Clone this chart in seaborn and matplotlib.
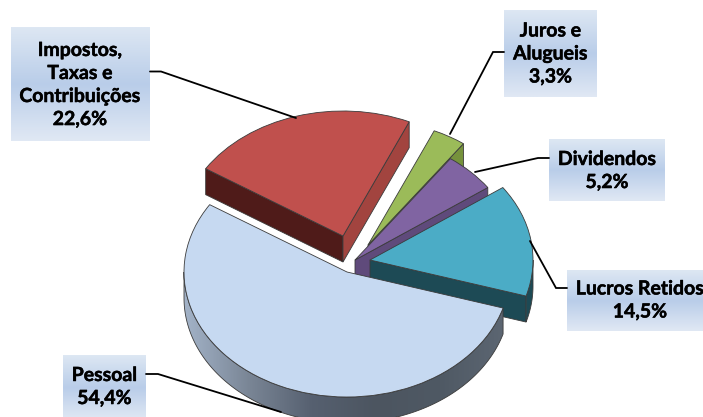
import numpy as np
import matplotlib
matplotlib.use("Agg")
import matplotlib.pyplot as plt
import matplotlib.patheffects as pe
from matplotlib.patches import Polygon
import seaborn as sns

slice_names = ["Pessoal", "Lucros Retidos", "Dividendos", "Juros e\nAlugueis", "Impostos,\nTaxas e\nContribuições"]
slice_shares = [54.4, 14.5, 5.2, 3.3, 22.6]
top_colors = ["#c6d9f1", "#4bacc6", "#8064a2", "#9bbb59", "#c0504d"]
side_colors = ["#4f5964", "#1d4a55", "#5f4a7b", "#76923c", "#a2443f"]
back_side_color = "#4f1b19"

W, H = 703, 417
RX, RY = 163.0, 125.0
DEPTH = 26.0 / RY
START_ANGLE = 147.4

# Slice apex positions, in pixels from the top-left corner
apexes_px = [(347, 272), (370, 260), (355, 260), (368, 245), (343, 236)]
# Label boxes (left, right, top, bottom) and their leader lines, in pixels
boxes_px = [(63, 146, 355, 420), (567, 715, 270, 331), (549, 665, 140, 201),
            (504, 597, 10, 97), (11, 150, 27, 141)]
leaders_px = [[(146, 374), (158, 374), (281, 412)],
              [(567, 288), (556, 288), (530, 241)],
              [(549, 158), (538, 158), (475, 172)],
              [(504, 52), (493, 52), (450, 134)],
              [(150, 71.5), (161, 71.5), (296, 118)]]
text_centres_px = [(104.5, 387), (640, 300.5), (607, 171), (550.5, 54), (80, 85)]

sns.set_theme(style="white")
plt.rcParams["font.family"] = ["Lato", "DejaVu Sans"]

fig = plt.figure(figsize=(W / 100, H / 100), dpi=100, facecolor="white")

# The pie axes are scaled so that one unit is one radius, which turns circles into ellipses
ax = fig.add_axes([0, 0, 1, 1])
edge = "#3b3b3b"


def to_unit(p):
    return p[0] / RX, (H - p[1]) / RY


def rim_point(c, deg):
    a = np.radians(deg)
    return c[0] + np.cos(a), c[1] + np.sin(a)


def radial_face(c, deg, color, z):
    px, py = rim_point(c, deg)
    ax.fill([c[0], px, px, c[0]], [c[1], py, py - DEPTH, c[1] - DEPTH],
            facecolor=color, edgecolor=edge, linewidth=0.6, zorder=z)


def rim_outline(c, a0, a1):
    t = np.radians(np.linspace(a0, a1, 160))
    xs, ys = c[0] + np.cos(t), c[1] + np.sin(t)
    return np.r_[xs, xs[::-1]], np.r_[ys, ys[::-1] - DEPTH]


def rim_face(c, a0, a1, color, z):
    xs, ys = rim_outline(c, a0, a1)
    ax.fill(xs, ys, facecolor=color, edgecolor=edge, linewidth=0.6, zorder=z)


def shaded_rim_face(c, a0, a1, stops, z):
    # Outer wall whose shade runs from left to right across the slice
    xs, ys = rim_outline(c, a0, a1)
    outline = Polygon(np.c_[xs, ys], closed=True, facecolor="none", edgecolor=edge,
                      linewidth=0.6, zorder=z + 0.1)
    ax.add_patch(outline)
    ramp = np.array(sns.blend_palette(stops, 256))[None, :, :]
    im = ax.imshow(ramp, extent=(xs.min(), xs.max(), ys.min(), ys.max()), aspect="auto",
                   interpolation="bilinear", zorder=z)
    im.set_clip_path(outline)


edges = START_ANGLE + np.r_[0, np.cumsum(slice_shares)] * 3.6
centres = [to_unit(p) for p in apexes_px]
bounds = dict(zip(slice_names, zip(edges[:-1], edges[1:], centres, top_colors, side_colors)))

# Back-to-front drawing order: Impostos, Juros, Dividendos, Lucros, Pessoal
for k, idx in enumerate([4, 3, 2, 1, 0]):
    a0, a1, c, top, side = bounds[slice_names[idx]]
    z = 2 + 2 * k
    if idx == 4:
        radial_face(c, a1, back_side_color, z)
        radial_face(c, a0, side, z)
    elif idx in (1, 2, 3):
        radial_face(c, a0, side, z)
        if idx == 1:
            rim_face(c, a0, 360, side, z)
    else:
        shaded_rim_face(c, 180, a1, ["#a3b3c8", "#7a8696", "#566070", "#4c5560", "#4f5964", "#5c6672"], z)
    ax.pie([slice_shares[idx] / 100], normalize=False, startangle=a0, center=c, radius=1,
           colors=[top], wedgeprops=dict(edgecolor=edge, linewidth=0.6, zorder=z + 1))

ax.set_aspect("auto")
ax.set_xlim(0, W / RX)
ax.set_ylim(0, H / RY)
ax.axis("off")

# Overlay in pixel coordinates for the label boxes and their leaders
ov = fig.add_axes([0, 0, 1, 1], facecolor="none")
ov.set_xlim(0, W)
ov.set_ylim(H, 0)
ov.axis("off")

gradient = np.array(sns.blend_palette(["#dde7f3", "#b9cde9", "#e0e8f4"], 64))[:, None, :]
for name, share, box, leader, tc in zip(slice_names, slice_shares, boxes_px, leaders_px, text_centres_px):
    x0, x1, y0, y1 = box
    ov.imshow(gradient, extent=(x0, x1, y1, y0), aspect="auto", zorder=1, interpolation="bilinear")
    xs, ys = zip(*leader)
    ov.plot(xs, ys, color="black", linewidth=1.3, solid_joinstyle="miter", zorder=2)
    share_text = f"{share:.1f}".replace(".", ",") + "%"
    label = ov.text(tc[0], tc[1], f"{name}\n{share_text}", ha="center", va="center", fontsize=14,
                    fontweight="bold", color="black", linespacing=1.43, zorder=3)
    # A hairline stroke gives the labels a slightly heavier weight
    label.set_path_effects([pe.withStroke(linewidth=0.35, foreground="black")])
ov.set_xlim(0, W)
ov.set_ylim(H, 0)

fig.savefig("out.png", dpi=100, facecolor="white")
